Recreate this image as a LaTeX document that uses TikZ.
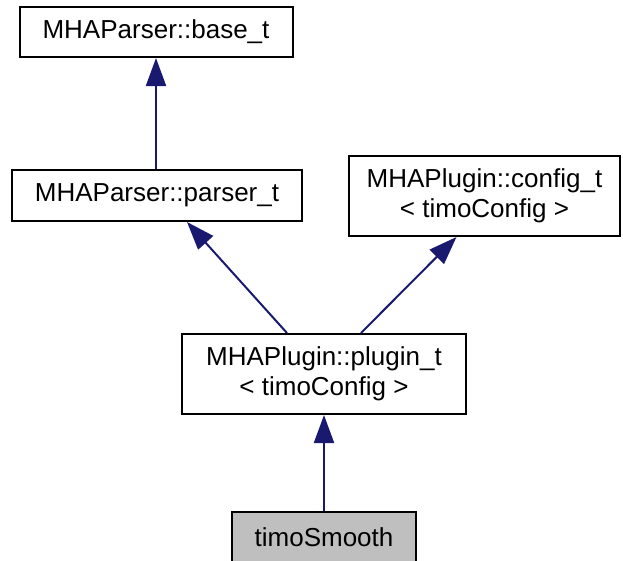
\documentclass[tikz,border=0pt]{standalone}
\usepackage{fontspec}
\setmainfont{Liberation Sans}
\usepackage{xcolor}
\usetikzlibrary{arrows.meta,calc,positioning}
\definecolor{navy}{HTML}{191970}

\begin{document}
\begin{tikzpicture}[x=1pt,y=-1pt,>={Triangle[length=28pt,width=20pt]},
  cls/.style={draw=black,line width=2pt,fill=white,inner sep=0pt,align=center,
    font=\fontsize{26}{30}\selectfont},
  inh/.style={navy,line width=2pt,->}]
\useasboundingbox (0,0) rectangle (623,560);
\node[cls,minimum width=273pt,minimum height=50pt] (base) at (156,32) {MHAParser::base\_t};
\node[cls,minimum width=290pt,minimum height=51pt] (parser) at (157,195.5) {MHAParser::parser\_t};
\node[cls,minimum width=271pt,minimum height=80pt] (config) at (484.5,196) {MHAPlugin::config\_t\\\textless{} timoConfig \textgreater};
\node[cls,minimum width=284pt,minimum height=80pt] (plugin) at (324,374) {MHAPlugin::plugin\_t\\\textless{} timoConfig \textgreater};
\node[cls,fill=black!25,minimum width=184pt,minimum height=50pt] (smooth) at (324,537) {timoSmooth};
% inheritance
\draw[inh] (parser.north -| base.south) -- (base.south);
\draw[inh] ([xshift=-37pt]plugin.north) -- ([xshift=30pt]parser.south);
\draw[inh] ([xshift=37pt]plugin.north) -- ([xshift=-28pt]config.south);
\draw[inh] (smooth.north) -- (plugin.south);
\end{tikzpicture}
\end{document}
